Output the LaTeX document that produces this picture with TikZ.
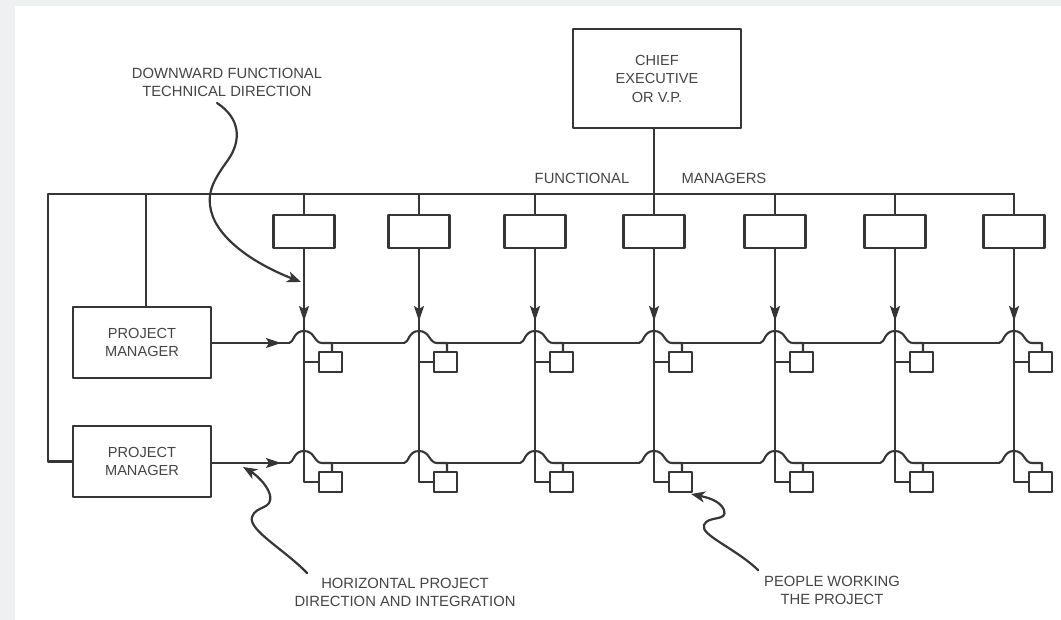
\documentclass[tikz,border=0pt]{standalone}
\usepackage{fontspec}
\setmainfont{Liberation Sans}
\usetikzlibrary{arrows.meta}
\definecolor{ink}{HTML}{363636}
\definecolor{txt}{HTML}{454545}
\definecolor{outer}{HTML}{EFF0F2}
\tikzset{
  ln/.style={draw=ink,line width=2.1pt,line cap=round,line join=round},
  arr/.style={ln,-{Stealth[length=15pt,width=10pt,inset=3pt]}},
  carr/.style={ln,line width=2.2pt,-{Stealth[length=14pt,width=11pt,inset=4pt]}},
  box/.style={ln,fill=white,inner sep=0pt,text=txt,align=center,font=\fontsize{14.6}{18.5}\selectfont},
  fmbox/.style={box,minimum width=61pt,minimum height=33pt},
  pbox/.style={box,minimum width=23pt,minimum height=20pt},
  lbl/.style={text=txt,align=center,inner sep=0pt,font=\fontsize{14.8}{18}\selectfont}
}
\begin{document}
\begin{tikzpicture}[x=1pt,y=-1pt]
\useasboundingbox (0,0) rectangle (1061,620);
\fill[outer] (0,0) rectangle (1061,620);
\fill[white] (15,6) rectangle (1061,620);

% top
\node[box,minimum width=168pt,minimum height=99pt] (chief) at (657,78.5) {CHIEF\\EXECUTIVE\\OR V.P.};
\node[lbl] (lfun) at (582,178) {FUNCTIONAL};
\node[lbl] (lman) at (724,178) {MANAGERS};
\node[lbl] (ldown) at (227,82) {DOWNWARD FUNCTIONAL\\TECHNICAL DIRECTION};
\node[lbl] (lhor) at (405,592) {HORIZONTAL PROJECT\\DIRECTION AND INTEGRATION};
\node[lbl] (lpeo) at (832,590) {PEOPLE WORKING\\THE PROJECT};

% project managers
\node[box,minimum width=138pt,minimum height=71pt] (pm1) at (142,342.5) {PROJECT\\MANAGER};
\node[box,minimum width=138pt,minimum height=71pt] (pm2) at (142,461.5) {PROJECT\\MANAGER};

% bus
\coordinate (bl) at (48,194);
\coordinate (bp) at (146,194);
\coordinate (br) at (1014,194);
\draw[ln] (br) -- (bl) -- (bl |- pm2.west) -- (pm2.west);
\draw[ln] (bp) -- (bp |- pm1.north);

% functional managers, columns
\foreach \x [count=\i] in {304,419,535,654,775,895,1014} {
  \node[fmbox] (fm\i) at (\x,231.5) {};
  \node[pbox] (pa\i) at (\x+26.5,362) {};
  \node[pbox] (pb\i) at (\x+26.5,482) {};
  \draw[ln] (\x,194) -- (fm\i.north);
  \draw[arr] (fm\i.south) -- (\x,321);
  \draw[ln] (\x,316) -- (\x,482) -- (pb\i.west);
  \draw[ln] (\x,362) -- (pa\i.west);
  \foreach \y/\p in {343/pa,463/pb} {
    \draw[ln] (\x-15,\y) .. controls (\x-10,\y) and (\x-11,\y-12) .. (\x,\y-12)
      .. controls (\x+11,\y-12) and (\x+10,\y) .. (\x+18,\y) -- (\x+28,\y) -- (\x+28,\y+9);
  }
}
\draw[ln] (fm4.north) -- (fm4.north |- chief.south);

% row lines between columns
\foreach \y in {343,463} {
  \foreach \a/\b in {304/419,419/535,535/654,654/775,775/895,895/1014} {
    \draw[ln] (\a+28,\y) -- (\b-15,\y);
  }
}
\draw[arr] (pm1.east |- 0,343) -- (281,343);
\draw[ln] (276,343) -- (289,343);
\draw[arr] (pm2.east |- 0,463) -- (281,463);
\draw[ln] (276,463) -- (289,463);

% curvy pointers
\draw[carr] (217,103) .. controls (240,118) and (242,140) .. (228,160)
  .. controls (215,178) and (208,190) .. (210,205)
  .. controls (213,235) and (250,262) .. (301,282);
\draw[carr] (307,573) .. controls (285,550) and (248,530) .. (252,517)
  .. controls (256,505) and (273,510) .. (270,495)
  .. controls (267,484) and (255,474) .. (243,467);
\draw[carr] (758,570) .. controls (735,548) and (700,535) .. (704,525)
  .. controls (708,515) and (728,522) .. (724,510)
  .. controls (720,500) and (705,497) .. (691,494);
\end{tikzpicture}
\end{document}
